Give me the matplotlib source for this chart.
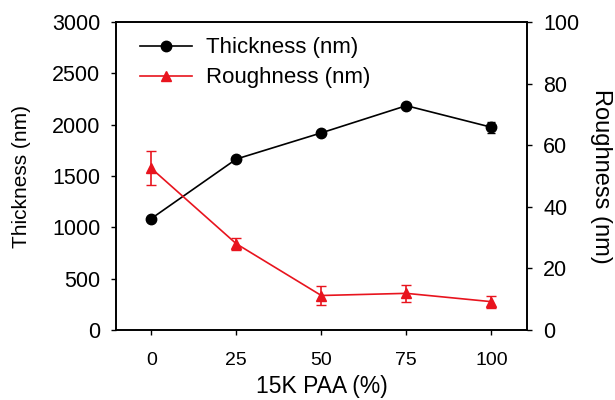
import matplotlib
matplotlib.use("Agg")
import matplotlib.pyplot as plt
from matplotlib.lines import Line2D

plt.rcParams["font.family"] = ["Liberation Sans", "DejaVu Sans"]

# data
paa = [0, 25, 50, 75, 100]
thickness = [1085, 1665, 1920, 2185, 1975]
thickness_err = [15, 20, 15, 15, 55]
roughness = [52.5, 28.0, 11.2, 11.9, 9.2]
roughness_err = [5.5, 2.0, 3.2, 2.7, 2.0]

RED = "#e8141e"

fig = plt.figure(figsize=(6.15, 4.0), dpi=100)
ax = fig.add_axes([0.189, 0.175, 0.668, 0.77])
ax2 = ax.twinx()

ax.errorbar(paa, thickness, yerr=thickness_err, color="black", marker="o",
            markersize=7.5, linewidth=1.2, capsize=3, elinewidth=1.2, zorder=3)
ax2.errorbar(paa, roughness, yerr=roughness_err, color=RED, marker="^",
             markersize=7.5, linewidth=1.2, capsize=3.5, elinewidth=1.2, zorder=3)

ax.set_xlim(-10.3, 110.5)
ax.set_ylim(0, 3000)
ax2.set_ylim(0, 100)
ax.set_xticks(paa)
ax.set_yticks(range(0, 3001, 500))
ax2.set_yticks(range(0, 101, 20))

for a in (ax, ax2):
    a.tick_params(direction="out", length=3.5, width=1, labelsize=15.5, pad=8)
    for s in a.spines.values():
        s.set_linewidth(1.2)
ax.tick_params(axis="x", labelsize=14, pad=12)

ax.set_xlabel("15K PAA (%)", fontsize=16.5, labelpad=5)
ax.set_ylabel("Thickness (nm)", fontsize=15, labelpad=15)
ax2.set_ylabel("Roughness (nm)", fontsize=17, rotation=-90, labelpad=24)

handles = [
    Line2D([0], [0], color="black", marker="o", markersize=7.5, linewidth=1.2),
    Line2D([0], [0], color=RED, marker="^", markersize=7.5, linewidth=1.2),
]
ax.legend(handles, ["Thickness (nm)", "Roughness (nm)"], loc="upper left",
          frameon=False, fontsize=16, handlelength=2.35, handletextpad=0.6,
          labelspacing=0.4, borderpad=0, borderaxespad=0,
          bbox_to_anchor=(0.058, 0.95))

fig.savefig("out.png", dpi=100)
